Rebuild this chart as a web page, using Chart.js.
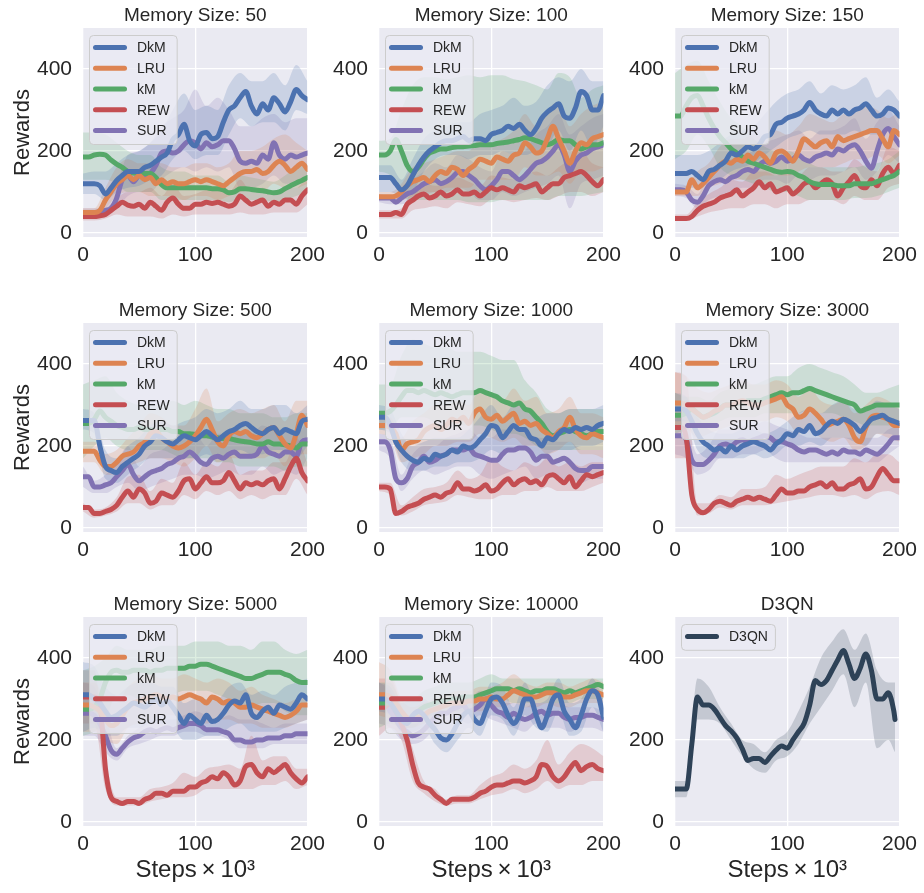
<!DOCTYPE html>
<html><head><meta charset="utf-8">
<script src="https://cdn.jsdelivr.net/npm/chart.js@4.4.0/dist/chart.umd.min.js"></script>
<style>
html,body{margin:0;padding:0;background:#fff;}
#wrap{position:relative;width:924px;height:893px;overflow:hidden;background:#fff;}
#wrap canvas{position:absolute;}
</style></head><body><div id="wrap"></div>
<script>
// ---------- axes / categories ----------
const steps = [0,5,10,15,20,25,30,35,40,45,50,55,60,65,70,75,80,85,90,95,100,105,110,115,120,125,130,135,140,145,150,155,160,165,170,175,180,185,190,195,200];
const bandSteps = [0,10,20,30,40,50,60,70,80,90,100,110,120,130,140,150,160,170,180,190,200];
const xTicks = [0,100,200];
const yTicks = [0,200,400];
const seriesNames = ['DkM','LRU','kM','REW','SUR'];
const seriesColors = ['#4C72B0','#DD8452','#55A868','#C44E52','#8172B3'];
const panelTitles = ['Memory Size: 50','Memory Size: 100','Memory Size: 150','Memory Size: 500','Memory Size: 1000','Memory Size: 3000','Memory Size: 5000','Memory Size: 10000','D3QN'];

// ---------- Memory 50 ----------
const dkm50 = [120,120,120,115,95,110,128,140,150,150,150,160,165,175,185,195,228,240,265,225,212,240,245,230,235,270,300,310,330,345,310,290,315,300,330,315,295,320,350,335,325];
const lru50 = [50,50,50,55,80,100,120,130,140,130,140,130,135,120,130,120,125,120,120,125,130,125,130,125,120,115,125,135,145,150,150,155,145,150,165,175,165,150,160,170,155];
const km50 = [185,185,190,192,190,178,168,160,150,146,145,145,145,135,118,110,110,110,110,110,110,110,110,108,108,105,98,100,108,108,106,104,103,100,98,100,108,115,122,128,135];
const rew50 = [40,40,40,42,45,55,65,75,68,65,70,60,75,65,55,75,85,70,60,60,70,70,75,72,75,70,65,70,90,80,70,75,80,65,75,70,80,80,70,90,105];
const sur50 = [50,50,50,52,55,60,85,130,140,125,140,135,145,165,195,200,195,200,215,225,220,205,220,210,215,225,225,205,175,170,175,170,190,180,220,190,180,190,185,190,195];
const dkm50Lo = [95,95,80,100,110,115,130,140,180,200,180,190,190,240,280,260,270,270,250,300,290];
const dkm50Hi = [145,150,150,170,190,200,220,250,300,340,300,310,300,360,390,370,370,390,360,410,370];
const lru50Lo = [40,40,60,90,100,100,90,90,90,80,90,90,80,90,100,110,100,120,110,110,120];
const lru50Hi = [60,60,110,160,180,170,170,170,160,160,170,170,160,170,200,200,210,230,240,220,200];
const km50Lo = [130,130,130,120,100,100,100,80,80,80,80,80,80,75,80,80,80,75,80,90,100];
const km50Hi = [245,245,240,220,200,190,190,160,150,150,140,140,140,125,140,135,130,125,140,160,170];
const rew50Lo = [30,30,35,45,40,40,40,35,45,40,45,45,45,45,50,45,45,50,50,50,70];
const rew50Hi = [55,55,60,85,100,100,110,90,120,90,95,105,110,100,130,100,110,100,110,110,140];
const sur50Lo = [40,40,45,60,90,100,100,130,150,160,150,160,150,160,110,110,120,140,120,120,130];
const sur50Hi = [60,60,70,120,190,200,220,260,280,300,350,310,330,300,260,260,280,290,270,280,280];

// ---------- Memory 100 ----------
const dkm100 = [135,135,135,120,105,115,140,165,185,200,210,220,225,225,230,235,225,230,230,225,240,245,250,260,255,265,250,240,255,280,295,305,315,285,280,305,345,335,300,300,335];
const lru100 = [88,88,88,90,100,115,125,130,135,125,140,150,145,160,155,140,155,165,180,175,170,185,180,175,190,195,220,210,195,200,230,260,230,200,170,200,220,215,230,235,240];
const km100 = [190,190,200,228,200,165,150,160,180,195,200,205,205,208,210,210,212,213,215,215,215,218,220,222,225,228,232,230,225,220,215,220,228,225,225,215,205,210,215,215,220];
const rew100 = [45,45,45,50,45,70,80,90,95,85,90,100,90,95,105,95,95,100,90,100,110,105,110,105,100,115,110,115,120,100,110,120,120,135,140,145,150,140,125,115,130];
const sur100 = [85,85,85,75,85,95,100,110,120,125,130,120,125,135,148,150,140,130,115,105,115,130,150,150,140,130,140,155,170,175,185,200,215,190,150,175,190,195,205,210,215];
const dkm100Lo = [100,100,90,100,150,180,190,190,180,190,190,200,190,190,200,210,250,200,250,210,260];
const dkm100Hi = [165,165,130,180,230,250,260,270,270,290,300,310,330,310,320,360,380,370,400,370,370];
const lru100Lo = [80,80,80,90,100,100,110,110,110,130,130,130,130,160,140,140,150,120,150,150,160];
const lru100Hi = [100,100,120,160,170,180,190,200,200,230,220,230,250,290,260,300,320,260,290,310,320];
const km100Lo = [150,140,90,80,80,80,80,80,75,75,75,80,80,80,80,80,90,90,90,95,100];
const km100Hi = [225,230,300,360,380,380,375,380,385,380,385,385,375,370,360,350,390,380,330,350,360];
const rew100Lo = [35,35,35,55,60,65,60,75,70,65,80,80,75,80,85,80,90,100,100,90,100];
const rew100Hi = [55,55,60,105,120,115,120,135,125,115,140,135,130,140,150,140,160,180,200,170,160];
const sur100Lo = [75,70,70,80,90,100,100,110,100,80,80,100,90,100,110,120,140,60,120,130,140];
const sur100Hi = [95,90,100,130,150,170,160,190,180,160,150,200,190,200,240,260,290,240,260,280,290];

// ---------- Memory 150 ----------
const dkm150 = [145,145,145,150,140,130,150,155,165,175,195,190,200,210,205,215,235,240,265,270,280,285,290,300,318,300,290,285,300,290,300,290,300,305,315,300,285,290,305,300,285];
const lru150 = [100,100,100,130,110,120,135,150,165,175,170,180,175,190,180,195,185,170,195,200,190,175,200,230,220,210,220,225,210,235,225,230,235,240,245,250,250,230,210,250,240];
const km150 = [285,285,310,330,335,310,280,255,235,220,205,195,185,175,170,165,160,155,150,148,150,148,140,135,125,120,118,118,118,115,115,115,120,120,120,120,125,130,135,140,150];
const rew150 = [35,35,35,40,55,65,70,75,85,90,95,105,90,100,110,125,110,120,100,105,110,95,105,120,125,110,120,130,120,90,110,125,140,115,110,130,115,145,160,145,165];
const sur150 = [105,105,100,80,75,90,115,125,130,125,135,140,150,155,150,165,175,170,175,185,175,180,190,180,175,185,190,195,190,205,200,210,215,200,175,158,200,240,255,235,215];
const dkm150Lo = [110,110,110,120,130,150,160,170,190,210,230,240,250,240,240,240,250,240,240,250,250];
const dkm150Hi = [190,190,190,200,220,240,250,260,290,320,340,350,370,340,360,350,360,380,330,350,320];
const lru150Lo = [90,90,90,110,120,130,130,130,140,140,140,150,160,160,160,170,180,180,190,170,190];
const lru150Hi = [110,115,150,170,210,230,230,240,230,250,240,260,290,280,270,290,300,310,300,280,300];
const km150Lo = [180,200,240,210,160,140,130,120,110,100,100,90,80,80,80,80,85,85,90,100,110];
const km150Hi = [390,410,420,370,320,280,260,230,210,200,200,190,170,160,160,160,160,165,170,180,200];
const rew150Lo = [30,30,40,50,55,60,60,70,70,60,70,70,80,80,80,70,90,80,80,110,120];
const rew150Hi = [45,45,75,95,110,130,125,150,150,140,150,140,160,160,150,150,180,160,150,210,200];
const sur150Lo = [90,85,60,80,90,100,110,110,130,130,120,140,130,140,140,150,160,130,150,190,170];
const sur150Hi = [120,115,95,150,170,180,190,200,220,230,240,250,230,250,250,260,280,230,270,300,260];

// ---------- Memory 500 ----------
const dkm500 = [262,262,262,200,150,140,135,150,160,170,180,200,210,225,220,210,205,215,225,220,215,225,235,225,215,225,235,240,250,255,245,235,230,240,245,230,240,235,230,260,265];
const lru500 = [187,187,187,165,150,150,160,175,180,185,200,210,230,235,220,210,200,195,200,210,225,245,265,240,210,200,225,235,230,235,225,220,230,240,245,225,205,195,230,275,250];
const km500 = [255,255,265,285,270,260,250,245,240,240,245,240,240,235,240,240,235,235,230,230,228,225,225,222,220,218,218,215,212,210,208,205,205,210,205,205,203,200,195,205,205];
const rew500 = [50,50,35,35,40,45,55,75,90,75,95,85,60,65,85,80,75,90,115,120,95,110,125,110,110,115,135,115,95,110,105,110,105,115,120,95,120,150,170,135,115];
const sur500 = [125,125,100,100,105,110,125,140,155,130,115,125,135,140,145,155,160,170,175,185,175,160,155,170,175,170,180,185,175,175,175,180,200,185,180,175,185,185,175,210,215];
const dkm500Lo = [240,230,120,110,130,150,170,170,170,170,170,180,170,180,190,180,180,190,190,170,200];
const dkm500Hi = [290,280,190,170,200,220,250,260,250,260,270,290,280,290,310,290,290,300,300,280,300];
const lru500Lo = [160,160,130,130,150,160,170,170,160,150,170,200,160,170,170,170,170,180,150,180,180];
const lru500Hi = [210,210,180,190,220,250,280,270,250,250,290,340,260,280,290,280,290,300,260,310,310];
const km500Lo = [170,200,220,200,190,190,190,190,180,170,170,170,160,160,150,150,150,150,140,150,150];
const km500Hi = [350,360,370,330,310,300,300,300,310,300,310,300,290,290,280,280,280,270,270,280,280];
const rew500Lo = [40,25,30,40,60,60,45,55,55,80,70,90,80,90,70,80,70,80,80,120,80];
const rew500Hi = [60,45,50,75,125,130,90,120,110,160,130,160,150,180,130,140,140,160,160,220,160];
const sur500Lo = [100,85,85,100,110,90,100,110,120,130,130,120,130,140,130,130,150,130,140,130,170];
const sur500Hi = [150,115,130,160,200,150,180,190,210,230,230,200,230,230,230,230,250,240,240,230,260];

// ---------- Memory 1000 ----------
const dkm1000 = [270,270,250,210,190,175,165,160,170,165,180,175,180,190,185,200,195,200,215,230,250,245,220,235,250,240,240,220,215,200,220,215,230,240,235,245,240,245,240,250,255];
const lru1000 = [250,250,245,230,190,205,210,215,235,245,250,240,250,265,260,270,255,280,290,270,265,275,260,270,280,255,260,250,255,240,230,220,235,245,270,240,225,220,230,225,220];
const km1000 = [280,280,285,300,320,335,335,330,335,330,325,330,325,320,325,330,330,330,335,330,325,320,310,305,300,305,290,285,270,255,235,225,230,235,240,235,230,225,230,235,235];
const rew1000 = [100,100,95,35,40,50,55,60,70,75,80,75,85,90,110,95,95,90,95,105,90,95,110,120,105,115,120,110,115,105,125,130,120,110,125,100,115,130,125,130,135];
const sur1000 = [210,210,190,120,110,120,150,160,175,160,165,175,180,190,190,190,195,180,175,170,165,165,180,190,190,195,195,185,165,175,175,160,165,170,160,145,140,140,150,150,150];
const dkm1000Lo = [240,230,160,140,140,150,150,160,160,170,190,180,190,190,170,180,190,190,200,200,210];
const dkm1000Hi = [300,290,230,200,210,220,220,220,240,270,300,270,300,290,270,280,280,290,290,290,300];
const lru1000Lo = [230,220,160,170,180,200,200,210,210,230,220,210,220,200,200,180,190,210,180,180,170];
const lru1000Hi = [270,270,220,260,280,300,300,310,300,340,320,310,340,310,320,280,290,320,280,280,270];
const km1000Lo = [240,240,270,270,270,260,260,250,250,250,240,230,230,220,200,190,190,190,190,190,190];
const km1000Hi = [350,350,420,460,450,440,440,430,430,430,420,410,410,360,330,290,280,290,290,290,290];
const rew1000Lo = [90,80,30,40,55,60,65,80,75,70,70,80,80,90,90,100,90,90,90,100,110];
const rew1000Hi = [110,110,55,75,95,100,110,140,120,130,170,150,140,160,150,170,150,160,150,160,160];
const sur1000Lo = [190,170,90,120,140,130,140,150,150,130,120,130,140,150,120,130,120,120,110,120,120];
const sur1000Hi = [230,220,130,180,200,200,220,230,240,220,220,240,240,240,220,220,210,210,190,190,190];

// ---------- Memory 3000 ----------
const dkm3000 = [290,290,285,260,230,210,200,190,195,185,200,190,200,205,210,205,200,190,205,215,230,225,240,235,250,230,235,250,260,255,265,260,250,235,250,265,270,275,265,260,255];
const lru3000 = [305,305,300,290,280,270,275,285,290,300,300,305,310,305,300,300,305,310,315,320,300,290,270,275,290,280,265,250,255,260,265,250,220,210,245,270,275,270,265,250,250];
const km3000 = [275,275,280,290,280,270,275,280,290,300,300,305,305,310,310,310,315,320,325,330,325,330,330,335,340,335,330,325,320,315,310,305,300,285,290,295,300,300,300,300,300];
const rew3000 = [245,245,220,80,45,37,45,60,65,60,55,65,70,75,70,75,70,65,80,95,85,85,90,90,100,105,110,100,110,95,95,105,110,120,95,100,125,145,130,115,115];
const sur3000 = [225,225,215,165,155,155,165,180,200,205,200,210,215,210,215,220,225,220,210,210,205,200,190,185,190,190,185,180,185,180,190,185,185,180,190,185,180,190,205,220,220];
const dkm3000Lo = [260,260,190,170,170,170,170,180,170,180,200,200,210,200,220,220,210,200,230,230,220];
const dkm3000Hi = [330,320,270,240,230,230,240,240,230,240,260,280,290,280,300,310,290,290,310,300,290];
const lru3000Lo = [240,240,220,230,240,250,260,260,260,270,260,230,240,220,210,220,190,200,230,220,210];
const lru3000Hi = [380,370,340,330,340,350,360,350,350,360,350,320,340,310,300,310,280,300,320,310,290];
const km3000Lo = [230,240,250,250,260,270,270,270,280,280,280,280,290,280,280,270,260,250,250,250,260];
const km3000Hi = [330,320,320,310,330,340,350,350,360,370,370,390,400,390,380,370,350,330,330,340,350];
const rew3000Lo = [170,170,30,35,50,45,55,55,55,60,65,70,75,80,80,75,80,70,85,90,80];
const rew3000Hi = [380,370,60,60,80,75,95,95,100,130,120,130,140,150,150,150,170,160,180,180,160];
const sur3000Lo = [180,170,130,140,170,170,180,180,190,170,160,160,160,160,160,160,160,160,160,180,200];
const sur3000Hi = [270,260,180,200,240,240,250,250,260,250,240,230,220,220,220,220,220,220,220,240,250];

// ---------- Memory 5000 ----------
const dkm5000 = [310,310,300,290,270,255,260,270,280,290,285,280,290,300,285,295,280,260,240,260,250,240,260,245,250,265,285,295,290,310,265,255,270,280,265,285,280,275,290,310,300];
const lru5000 = [285,285,280,270,250,235,240,260,280,290,295,300,305,310,305,300,305,300,305,310,305,300,290,305,300,290,295,290,280,280,285,280,275,270,265,260,255,260,270,285,285];
const km5000 = [275,275,280,300,340,365,370,365,365,370,370,370,365,370,370,375,375,375,375,380,380,385,385,380,375,370,365,360,355,350,350,355,360,365,365,365,360,355,345,340,340];
const rew5000 = [305,305,305,290,130,60,50,45,50,50,45,55,60,70,70,65,75,75,75,85,85,95,100,110,105,120,110,90,100,135,140,120,110,130,120,130,140,120,105,95,110];
const sur5000 = [265,265,260,240,210,175,165,180,195,205,210,220,225,220,225,230,225,230,235,240,240,235,225,225,225,220,215,200,200,195,195,200,200,205,205,205,210,210,215,215,215];
const dkm5000Lo = [220,230,210,210,230,230,240,240,230,200,200,210,210,230,240,220,220,220,230,240,250];
const dkm5000Hi = [390,380,330,310,330,340,340,330,330,290,300,300,300,330,340,310,320,310,330,340,350];
const lru5000Lo = [220,220,200,190,230,240,250,260,260,250,250,240,250,250,240,240,230,230,230,240,250];
const lru5000Hi = [340,340,300,290,330,350,360,350,350,360,350,340,350,340,320,330,310,300,290,300,310];
const km5000Lo = [210,220,250,310,310,300,300,300,310,320,320,320,310,300,290,280,290,290,270,260,260];
const km5000Hi = [370,380,400,430,420,420,420,430,430,430,440,440,440,430,430,420,440,440,420,410,420];
const rew5000Lo = [240,240,80,40,40,40,50,55,60,60,65,80,80,80,80,80,90,90,100,80,90];
const rew5000Hi = [370,370,160,60,60,60,80,85,95,120,110,130,135,140,130,210,150,160,160,130,130];
const sur5000Lo = [210,210,170,150,180,190,200,210,210,220,220,210,210,200,180,180,180,190,190,190,190];
const sur5000Hi = [340,330,260,180,210,230,250,250,250,260,270,260,250,260,250,250,240,230,240,240,240];

// ---------- Memory 10000 ----------
const dkm10000 = [300,300,290,270,250,240,260,270,260,240,225,205,200,215,240,260,270,250,240,270,300,305,290,260,240,260,300,300,260,230,260,300,310,270,250,230,260,300,320,310,255];
const lru10000 = [310,310,305,290,270,255,250,255,260,270,275,280,285,290,290,290,295,295,300,300,305,300,300,310,320,315,310,305,305,310,315,315,310,305,305,310,315,320,320,315,310];
const km10000 = [290,290,290,275,255,245,255,270,280,285,290,295,295,300,300,305,305,305,310,315,320,325,325,325,320,325,320,315,320,320,325,325,320,315,320,315,320,325,330,335,330];
const rew10000 = [280,280,290,270,240,200,140,95,85,80,65,55,45,55,55,55,55,60,70,75,85,90,90,95,100,100,95,100,110,140,135,110,100,110,130,145,125,135,140,130,125];
const sur10000 = [290,290,270,250,230,220,210,215,225,240,255,265,265,275,280,285,270,275,285,300,285,270,265,255,265,255,250,255,265,270,260,265,265,255,250,255,255,260,260,255,250];
const dkm10000Lo = [270,260,220,220,230,190,170,200,230,210,260,250,210,260,230,220,270,210,220,280,220];
const dkm10000Hi = [340,330,290,300,300,270,240,290,310,280,340,330,280,340,290,300,350,290,300,350,300];
const lru10000Lo = [260,250,230,230,240,250,260,260,270,270,280,280,290,280,280,290,280,280,290,290,290];
const lru10000Hi = [390,370,300,280,290,300,310,320,320,330,330,340,360,340,330,340,340,330,340,350,340];
const km10000Lo = [230,240,230,230,250,260,260,270,270,280,290,300,290,290,290,290,290,290,300,300,300];
const km10000Hi = [340,340,300,300,320,330,340,340,340,350,360,350,350,350,350,350,350,350,350,350,350];
const rew10000Lo = [210,230,200,100,70,50,40,45,45,55,65,70,80,70,80,100,80,90,90,100,100];
const rew10000Hi = [350,350,280,180,100,80,55,65,65,90,110,120,140,130,150,200,140,170,190,180,160];
const sur10000Lo = [240,230,200,190,200,230,240,250,240,260,250,240,230,220,240,230,230,220,230,230,220];
const sur10000Hi = [340,320,260,240,250,290,300,310,300,320,310,290,290,280,290,290,290,280,280,280,270];

// ---------- D3QN ----------
const d3qnName = 'D3QN';
const d3qnColor = '#2E4257';
const d3qnSteps = [0,5,10,15,20,25,30,35,40,45,50,55,60,65,70,75,80,85,90,95,100,105,110,115,120,125,130,135,140,145,150,155,160,165,170,175,180,185,190,195,196];
const d3qn = [80,80,80,190,305,285,285,275,255,235,222,205,178,150,155,155,145,160,175,185,180,200,220,240,285,345,335,345,370,395,418,385,350,375,410,370,300,300,315,270,250];
const d3qnBandSteps = [0,10,20,30,40,50,60,70,80,90,100,110,120,130,140,150,160,170,180,190,196];
const d3qnLo = [60,60,250,250,240,200,160,130,120,150,160,190,240,280,320,360,280,340,180,200,170];
const d3qnHi = [100,100,350,330,280,240,200,190,170,200,220,270,330,400,440,470,420,460,370,340,340];

// ---------- layout ----------
const FONT = '"Liberation Sans", Arial, Helvetica, sans-serif';
const TXT = '#262626';
const colPlotLeft = [83, 379, 675];
const rowPlotTop = [28, 323, 617];
const PW = 226, PH = 209, TH = 28, RP = 22;

function hexA(hex, a) {
  const n = parseInt(hex.slice(1), 16);
  return `rgba(${(n>>16)&255},${(n>>8)&255},${n&255},${a})`;
}
function pts(xs, ys) { return xs.map((x, i) => ({x: x, y: ys[i]})); }

const bgPlugin = {
  id: 'bgPlugin',
  beforeDraw(chart) {
    const a = chart.chartArea, ctx = chart.ctx;
    ctx.save(); ctx.fillStyle = '#EAEAF2';
    ctx.fillRect(a.left, a.top, a.right - a.left, a.bottom - a.top);
    ctx.restore();
  }
};
const boxLegend = {
  id: 'boxLegend',
  afterDatasetsDraw(chart) {
    const items = chart.data.datasets.filter(d => d.legendItem);
    const ctx = chart.ctx, a = chart.chartArea;
    ctx.save();
    ctx.font = '14px ' + FONT;
    const tw = Math.max(...items.map(d => ctx.measureText(d.label).width));
    const x0 = Math.round(a.left + 6), y0 = Math.round(a.top + 7);
    const rowH = 20.8, padT = 2, padB = 3;
    const w = 48 + tw + 7, h = padT + items.length * rowH + padB;
    ctx.beginPath();
    ctx.roundRect(x0 + 0.5, y0 + 0.5, w, h, 4);
    ctx.fillStyle = 'rgba(234,234,242,0.8)'; ctx.fill();
    ctx.strokeStyle = '#CCCCCC'; ctx.lineWidth = 1; ctx.stroke();
    items.forEach((d, i) => {
      const cy = y0 + padT + rowH * (i + 0.5);
      ctx.beginPath(); ctx.moveTo(x0 + 6.5, cy); ctx.lineTo(x0 + 35.5, cy);
      ctx.strokeStyle = d.borderColor; ctx.lineWidth = 5; ctx.lineCap = 'round'; ctx.stroke();
      ctx.fillStyle = TXT; ctx.textBaseline = 'middle'; ctx.textAlign = 'left';
      ctx.fillText(d.label, x0 + 48, cy + 1);
    });
    ctx.restore();
  }
};

function buildPanel(idx, series, lineXs, bandXs) {
  const row = Math.floor(idx / 3), col = idx % 3;
  const YW = col === 0 ? 83 : 60;
  const BH = row === 2 ? 62 : 40;
  const cw = YW + PW + RP, ch = TH + PH + BH;
  const c = document.createElement('canvas');
  c.width = cw; c.height = ch;
  c.style.left = (colPlotLeft[col] - YW) + 'px';
  c.style.top = (rowPlotTop[row] - TH) + 'px';
  c.style.width = cw + 'px'; c.style.height = ch + 'px';
  document.getElementById('wrap').appendChild(c);

  const datasets = [];
  series.forEach(s => {
    const loIdx = datasets.length;
    datasets.push({ data: pts(bandXs, s.lo), borderWidth: 0, pointRadius: 0, fill: false, order: 5,
      cubicInterpolationMode: 'monotone', backgroundColor: 'rgba(0,0,0,0)', borderColor: 'rgba(0,0,0,0)' });
    datasets.push({ data: pts(bandXs, s.hi), borderWidth: 0, pointRadius: 0, fill: loIdx, order: 5,
      cubicInterpolationMode: 'monotone', backgroundColor: hexA(s.color, 0.2), borderColor: 'rgba(0,0,0,0)' });
  });
  series.forEach(s => {
    datasets.push({ label: s.name, legendItem: true, data: pts(lineXs, s.mean), borderColor: s.color,
      backgroundColor: s.color, borderWidth: 5, pointRadius: 0, fill: false, order: 1,
      cubicInterpolationMode: 'monotone', borderCapStyle: 'round', borderJoinStyle: 'round' });
  });

  new Chart(c, {
    type: 'line',
    data: { datasets: datasets },
    plugins: [bgPlugin, boxLegend],
    options: {
      responsive: false, animation: false, events: [], devicePixelRatio: 1,
      layout: { padding: { left: 0, top: 0, right: RP, bottom: 0 } },
      plugins: {
        legend: { display: false }, tooltip: { enabled: false },
        title: { display: true, text: panelTitles[idx], color: TXT, fullSize: false,
          font: { family: FONT, size: 19, weight: 'normal', lineHeight: 1.2 },
          padding: { top: TH - 22.8 - 1, bottom: 1 } }
      },
      scales: {
        x: {
          type: 'linear', min: 0, max: 200,
          afterBuildTicks: a => { a.ticks = xTicks.map(v => ({ value: v })); },
          afterFit: s => { s.height = BH; },
          grid: { color: '#FFFFFF', lineWidth: 1.3, drawTicks: false },
          border: { display: false },
          ticks: { color: TXT, font: { family: FONT, size: 21 }, padding: 6, maxRotation: 0, autoSkip: false },
          title: { display: row === 2, text: 'Steps\u2009×\u200910³', color: TXT,
            font: { family: FONT, size: 24, lineHeight: 1.2 }, padding: { top: 0, bottom: 3 } }
        },
        y: {
          type: 'linear', min: -10, max: 500,
          afterBuildTicks: a => { a.ticks = yTicks.map(v => ({ value: v })); },
          afterFit: s => { s.width = YW; },
          grid: { color: '#FFFFFF', lineWidth: 1.3, drawTicks: false },
          border: { display: false },
          ticks: { color: TXT, font: { family: FONT, size: 21 }, padding: 11 },
          title: { display: col === 0, text: 'Rewards', color: TXT,
            font: { family: FONT, size: 22, lineHeight: 1.2 }, padding: { top: 10, bottom: 0 } }
        }
      }
    }
  });
}

function mk(means, los, his) {
  return seriesNames.map((n, i) => ({ name: n, color: seriesColors[i], mean: means[i], lo: los[i], hi: his[i] }));
}

buildPanel(0, mk([dkm50,lru50,km50,rew50,sur50],[dkm50Lo,lru50Lo,km50Lo,rew50Lo,sur50Lo],[dkm50Hi,lru50Hi,km50Hi,rew50Hi,sur50Hi]), steps, bandSteps);
buildPanel(1, mk([dkm100,lru100,km100,rew100,sur100],[dkm100Lo,lru100Lo,km100Lo,rew100Lo,sur100Lo],[dkm100Hi,lru100Hi,km100Hi,rew100Hi,sur100Hi]), steps, bandSteps);
buildPanel(2, mk([dkm150,lru150,km150,rew150,sur150],[dkm150Lo,lru150Lo,km150Lo,rew150Lo,sur150Lo],[dkm150Hi,lru150Hi,km150Hi,rew150Hi,sur150Hi]), steps, bandSteps);
buildPanel(3, mk([dkm500,lru500,km500,rew500,sur500],[dkm500Lo,lru500Lo,km500Lo,rew500Lo,sur500Lo],[dkm500Hi,lru500Hi,km500Hi,rew500Hi,sur500Hi]), steps, bandSteps);
buildPanel(4, mk([dkm1000,lru1000,km1000,rew1000,sur1000],[dkm1000Lo,lru1000Lo,km1000Lo,rew1000Lo,sur1000Lo],[dkm1000Hi,lru1000Hi,km1000Hi,rew1000Hi,sur1000Hi]), steps, bandSteps);
buildPanel(5, mk([dkm3000,lru3000,km3000,rew3000,sur3000],[dkm3000Lo,lru3000Lo,km3000Lo,rew3000Lo,sur3000Lo],[dkm3000Hi,lru3000Hi,km3000Hi,rew3000Hi,sur3000Hi]), steps, bandSteps);
buildPanel(6, mk([dkm5000,lru5000,km5000,rew5000,sur5000],[dkm5000Lo,lru5000Lo,km5000Lo,rew5000Lo,sur5000Lo],[dkm5000Hi,lru5000Hi,km5000Hi,rew5000Hi,sur5000Hi]), steps, bandSteps);
buildPanel(7, mk([dkm10000,lru10000,km10000,rew10000,sur10000],[dkm10000Lo,lru10000Lo,km10000Lo,rew10000Lo,sur10000Lo],[dkm10000Hi,lru10000Hi,km10000Hi,rew10000Hi,sur10000Hi]), steps, bandSteps);
buildPanel(8, [{ name: d3qnName, color: d3qnColor, mean: d3qn, lo: d3qnLo, hi: d3qnHi }], d3qnSteps, d3qnBandSteps);
</script></body></html>
